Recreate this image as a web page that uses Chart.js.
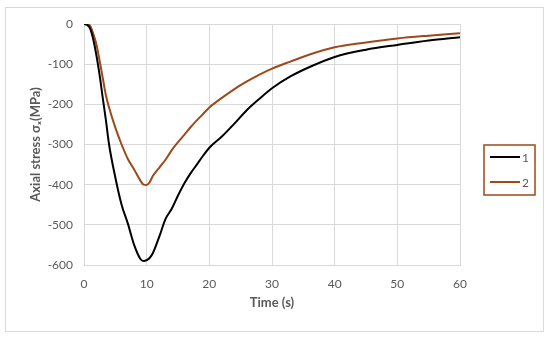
<!DOCTYPE html>
<html>
<head>
<meta charset="utf-8">
<script src="https://cdn.jsdelivr.net/npm/chart.js@4.4.1/dist/chart.umd.min.js"></script>
<style>
    html, body { margin: 0; padding: 0; background: #ffffff; }
    #wrap { position: relative; width: 550px; height: 337px; }
</style>
</head>
<body>
<div id="wrap"><canvas id="stressChart"></canvas></div>
<script>
// ===============================
// DATA
// ===============================

const times = [0, 0.5, 1, 1.5, 2, 2.5, 3, 3.5, 4, 5, 6, 7, 8, 9, 9.5, 10, 10.5, 11, 12, 13, 14, 15,
    16, 17, 18, 19, 20, 22, 24, 26, 28, 30, 33, 36, 40, 45, 50, 55, 60];

const stress1 = [0, -2, -12, -40, -80, -128, -185, -240, -300, -382, -450, -497, -550, -585, -590, -588,
    -582, -570, -530, -486, -460, -427, -397, -372, -350, -328, -308, -280, -248, -214, -186, -160,
    -130, -107, -82, -64, -52, -41, -33];

const stress2 = [0, -1, -5, -25, -52, -92, -135, -178, -208, -258, -300, -336, -362, -390, -400, -401,
    -393, -378, -358, -338, -314, -294, -276, -257, -240, -224, -208, -184, -162, -143, -126, -111,
    -93, -76, -58, -46, -36, -29, -23];

const seriesNames = ["1", "2"];
const seriesColors = ["#000000", "#9c4a1a"];

const xTickValues = [0, 10, 20, 30, 40, 50, 60];
const yTickValues = [-600, -500, -400, -300, -200, -100, 0];

const textColor = "#595959";
const gridColor = "#d9d9d9";
const fontFamily = "Lato, 'Noto Sans', sans-serif";

function toPoints(values) {
    return times.map(function (t, i) {
        return { x: t, y: values[i] };
    });
}

// ===============================
// PLUGINS
// ===============================

const outerBorder = {
    id: "outerBorder",
    beforeDraw: function (chart) {
        const ctx = chart.ctx;
        ctx.save();
        ctx.fillStyle = "#ffffff";
        ctx.fillRect(0, 0, chart.width, chart.height);
        ctx.strokeStyle = gridColor;
        ctx.lineWidth = 1;
        ctx.strokeRect(5.5, 7.5, chart.width - 12, chart.height - 13);
        ctx.restore();
    }
};

// legend with a border box, like the Excel one
const boxLegend = {
    id: "boxLegend",
    afterDraw: function (chart) {
        const ctx = chart.ctx;
        const left = chart.chartArea.right + 24;
        const top = Math.round(chart.height / 2) - 24;

        ctx.save();
        ctx.strokeStyle = seriesColors[1];
        ctx.lineWidth = 1.5;
        ctx.strokeRect(left, top, 51, 50);

        ctx.font = "12px " + fontFamily;
        ctx.textBaseline = "middle";
        ctx.textAlign = "left";

        chart.data.datasets.forEach(function (ds, i) {
            const y = top + 12 + i * 25;
            ctx.strokeStyle = ds.borderColor;
            ctx.lineWidth = 2;
            ctx.beginPath();
            ctx.moveTo(left + 6, y);
            ctx.lineTo(left + 36, y);
            ctx.stroke();
            ctx.fillStyle = textColor;
            ctx.fillText(ds.label, left + 38, y + 1);
        });
        ctx.restore();
    }
};

// ===============================
// CHART
// ===============================

new Chart(document.getElementById("stressChart"), {
    type: "line",
    data: {
        datasets: [
            {
                label: seriesNames[0],
                data: toPoints(stress1),
                borderColor: seriesColors[0],
                borderWidth: 2,
                pointRadius: 0,
                cubicInterpolationMode: "monotone"
            },
            {
                label: seriesNames[1],
                data: toPoints(stress2),
                borderColor: seriesColors[1],
                borderWidth: 2,
                pointRadius: 0,
                cubicInterpolationMode: "monotone"
            }
        ]
    },
    options: {
        responsive: true,
        maintainAspectRatio: false,
        animation: false,
        layout: {
            padding: { left: 24, top: 24, right: 90, bottom: 22 }
        },
        plugins: {
            legend: { display: false },
            tooltip: { enabled: false }
        },
        scales: {
            x: {
                type: "linear",
                min: 0,
                max: 60,
                afterBuildTicks: function (scale) {
                    scale.ticks = xTickValues.map(function (v) { return { value: v }; });
                },
                ticks: {
                    color: textColor,
                    padding: 12,
                    maxRotation: 0,
                    font: { family: fontFamily, size: 12 }
                },
                grid: { color: gridColor, drawTicks: false },
                border: { color: gridColor },
                title: {
                    display: true,
                    text: "Time (s)",
                    color: textColor,
                    padding: { top: -8, bottom: 4 },
                    font: { family: fontFamily, size: 13, weight: "bold" }
                }
            },
            y: {
                min: -600,
                max: 0,
                afterBuildTicks: function (scale) {
                    scale.ticks = yTickValues.map(function (v) { return { value: v }; });
                },
                afterFit: function (scale) {
                    scale.width = 60;
                },
                ticks: {
                    color: textColor,
                    padding: 11,
                    font: { family: fontFamily, size: 12 }
                },
                grid: { color: gridColor, drawTicks: false },
                border: { color: gridColor },
                title: {
                    display: true,
                    text: "Axial stress σₓ(MPa)",
                    color: textColor,
                    padding: { top: 4, bottom: 4 },
                    font: { family: fontFamily, size: 13, weight: "bold" }
                }
            }
        }
    },
    plugins: [outerBorder, boxLegend]
});
</script>
</body>
</html>
